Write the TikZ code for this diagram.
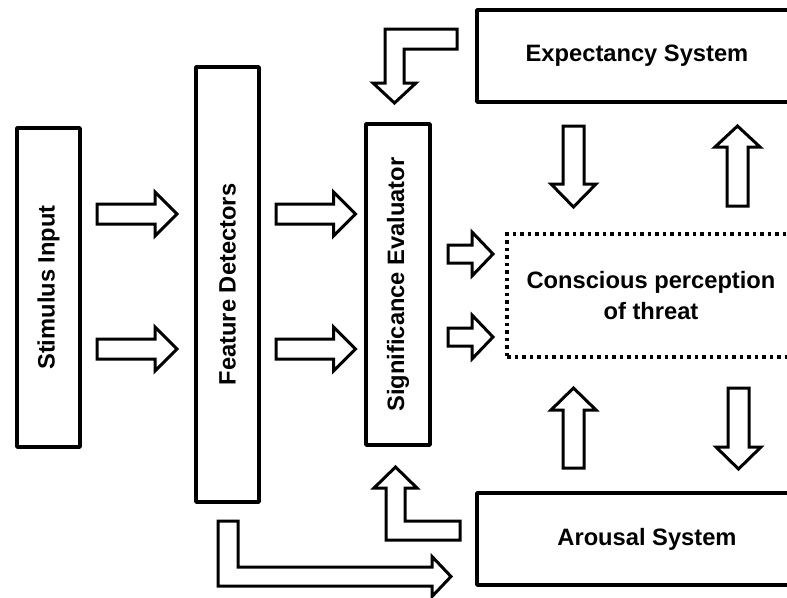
\documentclass[tikz,border=0pt]{standalone}
\usepackage{fontspec}
\setmainfont{Liberation Sans}

% horizontal block arrow: start x, tip x, centre y, shaft half width, head half width, head length
\newcommand\harr[6]{\draw[blockarrow] (#1,#3-#4) -- (#2-#6,#3-#4) -- (#2-#6,#3-#5) -- (#2,#3)
  -- (#2-#6,#3+#5) -- (#2-#6,#3+#4) -- (#1,#3+#4) -- cycle;}
% downward block arrow: centre x, top y, tip y, shaft half width, head half width, head length
\newcommand\darr[6]{\draw[blockarrow] (#1-#4,#2) -- (#1+#4,#2) -- (#1+#4,#3-#6) -- (#1+#5,#3-#6)
  -- (#1,#3) -- (#1-#5,#3-#6) -- (#1-#4,#3-#6) -- cycle;}
% upward block arrow: centre x, bottom y, tip y, shaft half width, head half width, head length
\newcommand\uarr[6]{\draw[blockarrow] (#1-#4,#2) -- (#1+#4,#2) -- (#1+#4,#3+#6) -- (#1+#5,#3+#6)
  -- (#1,#3) -- (#1-#5,#3+#6) -- (#1-#4,#3+#6) -- cycle;}

\begin{document}
\begin{tikzpicture}[x=1pt,y=-1pt,
  box/.style={draw, line width=3.5pt, line join=round, inner sep=0pt,
    font=\fontsize{23.7}{31}\selectfont\bfseries, align=center},
  dotbox/.style={box, line join=miter, dash pattern=on 3.5pt off 4pt},
  blockarrow/.style={draw, line width=3pt, line join=miter, fill=white}]
\path[use as bounding box, clip] (0,0) rectangle (787,597);
\fill[white] (0,0) rectangle (787,597);

% processing stages
\node[box, rotate=90, minimum width=319pt, minimum height=63pt] (stim) at (48.5,287.5) {Stimulus Input};
\node[box, rotate=90, minimum width=435pt, minimum height=63pt] (feat) at (227.5,284.5) {Feature Detectors};
\node[box, rotate=90, minimum width=321pt, minimum height=64pt] (sig) at (398,284.5) {Significance Evaluator};
\node[box, minimum width=320pt, minimum height=92pt] (exp) at (637,56) {Expectancy System};
\node[dotbox, minimum width=288pt, minimum height=123pt] (cons) at (651,295.5) {Conscious perception\\of threat};
\node[box, minimum width=340pt, minimum height=92pt] (arou) at (647,539) {Arousal System};

% stimulus -> feature detectors
\harr{97}{177}{214}{10}{22}{22}
\harr{97}{177}{349}{10}{22}{22}
% feature detectors -> significance evaluator
\harr{276}{355.5}{214}{10}{22}{22}
\harr{276}{355.5}{349}{10}{22}{22}
% significance evaluator -> conscious perception
\harr{448}{493}{254}{9}{22}{21}
\harr{448}{493}{337}{9}{22}{21}

% expectancy <-> conscious perception
\darr{573.5}{126}{207}{10.5}{22.5}{23}
\uarr{737.5}{206}{126}{10.5}{22.5}{21}
% conscious perception <-> arousal
\uarr{573.5}{468}{388}{10.5}{22.5}{22}
\darr{738.5}{388}{469}{10.5}{22.5}{22}

% expectancy -> significance evaluator (bent)
\draw[blockarrow] (457,29) -- (385,29) -- (385,83) -- (373,83) -- (394.5,103) -- (416,83)
  -- (404,83) -- (404,49) -- (457,49) -- cycle;
% arousal -> significance evaluator (bent)
\draw[blockarrow] (460,540) -- (386,540) -- (386,488) -- (374,488) -- (395.5,467) -- (417,488)
  -- (405,488) -- (405,521) -- (460,521) -- cycle;
% feature detectors -> arousal (bent)
\draw[blockarrow] (218,521) -- (218,586) -- (432,586) -- (432,596.5) -- (451,576.5) -- (432,556.5)
  -- (432,567) -- (238,567) -- (238,521) -- cycle;
\end{tikzpicture}
\end{document}
